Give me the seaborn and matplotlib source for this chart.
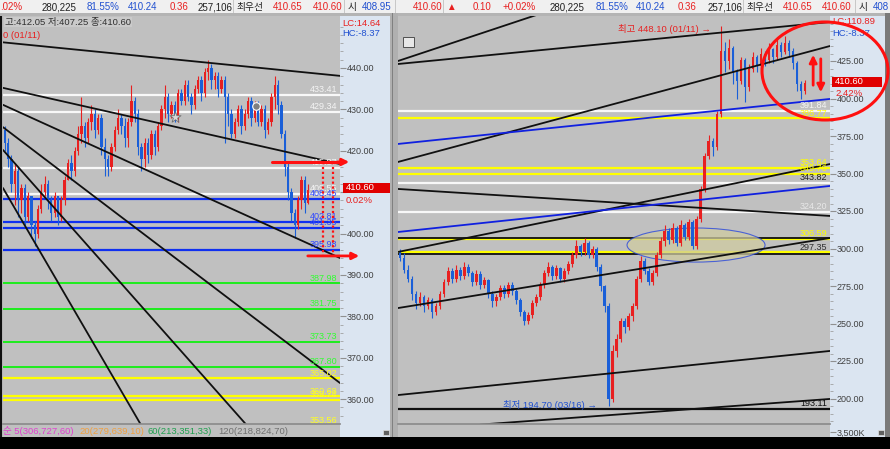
import numpy as np
import matplotlib.pyplot as plt
import matplotlib.patches as mpatches
from matplotlib.ticker import FormatStrFormatter, FixedLocator, FuncFormatter
import seaborn as sns

sns.set_theme(style="white")
plt.rcParams['font.family'] = ['Liberation Sans', 'Noto Sans CJK KR', 'DejaVu Sans']

W, H = 890, 449
RED = '#e82020'
BLUE = '#1a5fd8'
TXTBLUE = '#2050d0'

# ---- left chart (daily) candles: open = previous close
left_open0 = 425
left_close = [422, 418, 412, 415, 408, 411, 404, 409, 402, 400,
              406, 410, 412, 408, 405, 409, 404, 408, 413, 417,
              415, 420, 424, 426, 423, 427, 429, 425, 428, 421,
              418, 416, 421, 425, 428, 426, 423, 427, 432, 429,
              421, 418, 422, 419, 424, 421, 426, 430, 433, 429,
              431, 428, 434, 432, 436, 433, 431, 435, 437, 434,
              439, 440, 437, 438, 435, 437, 433, 429, 424, 427,
              430, 426, 429, 432, 428, 431, 427, 430, 425, 427,
              433, 436, 431, 424, 416, 410, 405, 402, 408, 413,
              407.5, 410.6]
left_high = [426, 423, 419, 417, 416, 412, 412, 410, 409, 403,
             407, 412, 414, 413, 409, 410, 409, 409, 414, 418,
             419, 421, 426, 433, 427, 428, 431, 430, 429, 429,
             423, 419, 422, 426, 430, 429, 428, 428, 436, 433,
             430, 422, 423, 423, 425, 425, 427, 431, 436, 434,
             432, 432, 435, 435, 437, 437, 434, 436, 438, 438,
             440, 442, 441, 439, 439, 438, 438, 434, 430, 428,
             431, 431, 430, 433, 433, 432, 432, 431, 431, 428,
             434, 438, 437, 432, 425, 417, 411, 406, 409, 414,
             414, 412.05]
left_low = [420, 416, 410, 407, 404, 405, 402, 403, 399, 397,
            399, 405, 409, 406, 403, 404, 402, 403, 407, 413,
            413, 414, 419, 422, 421, 422, 425, 423, 424, 419,
            414, 414, 415, 420, 424, 424, 421, 421, 426, 427,
            419, 415, 416, 417, 418, 419, 420, 425, 428, 427,
            428, 427, 427, 431, 431, 432, 429, 430, 434, 432,
            433, 437, 435, 435, 433, 434, 422, 426, 423, 423,
            426, 424, 425, 428, 426, 427, 426, 426, 423, 424,
            426, 430, 429, 423, 414, 408, 403, 399, 401, 406,
            405, 407.25]

left_levels = [433.41, 429.34, 415.87, 409.55, 408.45, 402.81, 401.35, 395.98,
               387.98, 381.75, 373.73, 367.80, 365.02, 360.68, 359.74, 353.56]
left_level_colors = ['white', 'white', 'white', 'white', 'blue', 'blue', 'blue', 'blue',
                     'green', 'green', 'green', 'green', 'yellow', 'yellow', 'yellow', 'yellow']
left_trends = [(-0.5, 446.2, 100.6, 438.1), (-0.5, 435.2, 100.6, 416.8),
               (-0.5, 431.1, 100.6, 394.1), (-0.5, 425.7, 100.6, 363.9),
               (-0.5, 420.2, 80.0, 347.0), (-0.5, 411.0, 50.0, 341.2)]

# ---- right chart (weekly) candles
right_open0 = 298
right_close = [294, 286, 280, 270, 264, 268, 262, 266, 258, 262,
               270, 278, 285, 280, 286, 282, 288, 284, 278, 283,
               276, 279, 270, 265, 268, 274, 270, 276, 272, 266,
               258, 252, 256, 264, 268, 276, 284, 288, 282, 287,
               280, 285, 290, 296, 302, 298, 304, 296, 300, 288,
               275, 262, 200, 232, 240, 252, 248, 255, 262, 280,
               292, 285, 278, 284, 296, 305, 312, 306, 314, 304,
               316, 308, 318, 302, 320, 340, 362, 372, 368, 390,
               432, 425, 434, 418, 412, 426, 408, 420, 428, 422,
               430, 426, 433, 428, 436, 431, 437, 432, 424, 410,
               405, 410.6]
right_high = [300, 297, 289, 282, 272, 271, 269, 268, 267, 264,
              272, 280, 288, 287, 289, 288, 291, 290, 285, 286,
              285, 281, 280, 272, 270, 276, 276, 278, 278, 273,
              267, 259, 258, 266, 270, 278, 286, 291, 289, 289,
              288, 287, 292, 298, 306, 303, 307, 305, 302, 301,
              290, 276, 264, 236, 243, 254, 254, 257, 264, 282,
              295, 294, 287, 286, 298, 308, 316, 314, 317, 315,
              319, 317, 320, 319, 322, 342, 364, 376, 374, 392,
              448.1, 438, 440, 435, 420, 428, 427, 423, 431, 429,
              434, 432, 437, 434, 440, 438, 442, 439, 434, 425,
              412, 412.05]
right_low = [292, 284, 278, 266, 260, 262, 258, 260, 254, 256,
             260, 268, 276, 277, 278, 279, 280, 282, 275, 276,
             273, 274, 267, 261, 262, 266, 267, 268, 269, 263,
             255, 249, 250, 254, 262, 266, 274, 282, 279, 280,
             278, 278, 283, 288, 294, 295, 296, 294, 294, 285,
             272, 258, 194.7, 198, 228, 238, 244, 246, 252, 260,
             278, 283, 276, 276, 282, 294, 302, 303, 304, 302,
             302, 306, 306, 300, 300, 318, 338, 360, 362, 366,
             388, 418, 420, 410, 400, 410, 398, 405, 418, 418,
             420, 422, 424, 424, 426, 428, 430, 428, 420, 405,
             400, 403]

right_levels = [391.84, 386.77, 353.64, 349.76, 343.82, 324.20, 306.59, 297.35, 193.11]
right_level_colors = ['white', 'yellow', 'yellow', 'yellow', 'white', 'white', 'yellow', 'yellow', 'black']
right_label_colors = ['#f4f4f4', '#ffff00', '#ffff00', '#ffff00', '#202020', '#e8e8e8', '#ffff00', '#303030', '#101010']
right_black_levels = [307.3, 296.6]
right_trends = [(-0.5, 423.0, 107.2, 451.0, 'k'), (-0.5, 425.0, 40.0, 461.0, 'k'),
                (-0.5, 357.7, 107.2, 435.0, 'k'), (-0.5, 369.7, 107.2, 399.7, 'b'),
                (-0.5, 339.7, 107.2, 321.7, 'k'), (-0.5, 297.7, 107.2, 356.3, 'k'),
                (-0.5, 311.0, 107.2, 341.7, 'b'), (-0.5, 260.3, 107.2, 307.0, 'k'),
                (-0.5, 202.3, 107.2, 231.7, 'k'), (20.0, 182.6, 107.2, 199.7, 'k')]
zone_center = (73.8, 302.3)
zone_size = (34.4, 22.7)

level_rgb = {'white': '#f8f8f8', 'blue': '#1030f0', 'green': '#10f010',
             'yellow': '#ffff00', 'black': '#101010'}
label_rgb = {'white': '#f4f4f4', 'blue': '#3048ff', 'green': '#30ff30', 'yellow': '#ffff20'}

fig = plt.figure(figsize=(8.9, 4.49), dpi=100, facecolor='#b4b4b4')


def rect(x0, y0, x1, y1, color, z=-1):
    fig.add_artist(mpatches.Rectangle((x0 / W, 1 - y1 / H), (x1 - x0) / W, (y1 - y0) / H,
                                      transform=fig.transFigure, facecolor=color,
                                      edgecolor='none', zorder=z))


def ftext(x, y, s, color, size=6.5, ha='left', **kw):
    fig.text(x / W, 1 - y / H, s, color=color, fontsize=size, ha=ha, va='center', **kw)


def px_axes(x0, y0, x1, y1):
    return fig.add_axes([x0 / W, 1 - y1 / H, (x1 - x0) / W, (y1 - y0) / H])


def candles(ax, open0, close, high, low, width):
    close = np.array(close, dtype=float)
    opens = np.concatenate([[open0], close[:-1]])
    x = np.arange(len(close))
    cols = np.where(close >= opens, RED, BLUE)
    ax.vlines(x, low, high, colors=cols, lw=0.8, zorder=2)
    body = np.maximum(np.abs(close - opens), 0.4)
    ax.bar(x, body, bottom=np.minimum(opens, close), width=width, color=cols,
           linewidth=0, zorder=2)


# backgrounds
rect(0, 0, 890, 13, '#f0f0f0')
rect(340, 16, 390, 437, '#dbe5f1')
rect(830, 16, 885, 437, '#dbe5f1')
rect(390, 13, 398, 437, '#b0b0b0')
rect(392, 13, 393, 437, '#808080')
rect(885, 13, 890, 437, '#7a7a7a')
rect(0, 16, 2, 437, '#101010')
rect(0, 437, 890, 449, '#000000')
for sx in [233, 344, 395, 443, 743, 855]:
    rect(sx, 0, sx + 1, 13, '#c8c8c8')

# ---- left chart
axL = px_axes(3, 16, 340, 424)
axL.set_facecolor('#c0c0c0')
axL.set_xlim(-0.5, 100.6)
axL.set_ylim(354.0, 452.56)
for v, c in zip(left_levels, left_level_colors):
    axL.axhline(v, color=level_rgb[c], lw=1.6 if c != 'green' else 1.3, zorder=1)
    axL.annotate(f'{v:.2f}', xy=(1, v), xycoords=axL.get_yaxis_transform(),
                 xytext=(-2, 0.6), textcoords='offset points', ha='right', va='bottom',
                 fontsize=6.5, color=label_rgb[c], annotation_clip=False, zorder=4)
candles(axL, left_open0, left_close, left_high, left_low, 0.7)
for x0, y0, x1, y1 in left_trends:
    axL.plot([x0, x1], [y0, y1], color='#101010', lw=1.3, zorder=3)
axL.scatter([51.1], [428.2], marker='*', s=70, color='#d8d8d8', edgecolor='#707070', lw=0.6, zorder=5)
axL.scatter([75.4], [430.8], marker='o', s=30, color='#808080', edgecolor='white', lw=0.8, zorder=5)
axL.plot([80.2, 100.6], [417.3, 417.3], color='#ff1010', lw=2.2, zorder=4)
axL.annotate('', xy=(104.2, 417.3), xytext=(99, 417.3),
             arrowprops=dict(arrowstyle='-|>', color='#ff1010', lw=2, mutation_scale=10),
             annotation_clip=False, zorder=6)
axL.annotate('', xy=(107.2, 394.6), xytext=(90.1, 394.6),
             arrowprops=dict(arrowstyle='-|>', color='#ff1010', lw=2, mutation_scale=10),
             annotation_clip=False, zorder=6)
for vx in [95.5, 98.5]:
    axL.plot([vx, vx], [417.3, 394.6], color='#ff1010', lw=1.6, ls=(0, (1, 1.2)), zorder=4)
axL.set_xticks([])
axL.yaxis.tick_right()
axL.set_yticks(np.arange(360, 441, 10))
axL.yaxis.set_minor_locator(FixedLocator(np.arange(356, 452, 2)))
# the current-price box covers the 410 label
axL.yaxis.set_major_formatter(FuncFormatter(lambda v, p: '' if abs(v - 410) < 0.1 else f'{v:.2f}'))
axL.tick_params(axis='y', which='major', length=4, width=0.8, color='#909090',
                labelsize=6.5, labelcolor='#404040', pad=1)
axL.tick_params(axis='y', which='minor', length=2, width=0.6, color='#a0a0a0')
for s in axL.spines.values():
    s.set_visible(False)

# left volume strip
axLS = px_axes(3, 424, 340, 437)
axLS.set_facecolor('#c0c0c0')
axLS.set_xticks([])
axLS.set_yticks([])
for s in axLS.spines.values():
    s.set_visible(False)
axLS.spines['top'].set_visible(True)
axLS.spines['top'].set_color('#8c8c8c')

# ---- right chart
axR = px_axes(398, 16, 830, 424)
axR.set_facecolor('#c0c0c0')
axR.set_xlim(-0.5, 107.2)
axR.set_ylim(183.0, 455.0)
for v, c, lc in zip(right_levels, right_level_colors, right_label_colors):
    axR.axhline(v, color=level_rgb[c], lw=1.6, zorder=1)
    axR.annotate(f'{v:.2f}', xy=(1, v), xycoords=axR.get_yaxis_transform(),
                 xytext=(-2, 0.6), textcoords='offset points', ha='right', va='bottom',
                 fontsize=6.5, color=lc, annotation_clip=False, zorder=4)
for v in right_black_levels:
    axR.axhline(v, color='#101010', lw=1.3, zorder=1)
zone = mpatches.Ellipse(zone_center, zone_size[0], zone_size[1], facecolor='#cfcba0',
                        edgecolor='#2040e0', lw=0.8, alpha=0.75, zorder=1.5)
axR.add_patch(zone)
candles(axR, right_open0, right_close, right_high, right_low, 0.68)
for x0, y0, x1, y1, c in right_trends:
    axR.plot([x0, x1], [y0, y1], color='#101010' if c == 'k' else '#1020e0', lw=1.3, zorder=3)
axR.annotate('', xy=(103.0, 431.0), xytext=(103.0, 407.0),
             arrowprops=dict(arrowstyle='-|>', color='#ff1010', lw=2, mutation_scale=11), zorder=6)
axR.annotate('', xy=(104.9, 402.3), xytext=(104.9, 428.3),
             arrowprops=dict(arrowstyle='-|>', color='#ff1010', lw=2, mutation_scale=11), zorder=6)
axR.set_xticks([])
axR.yaxis.tick_right()
axR.set_yticks(np.arange(200, 426, 25))
axR.yaxis.set_minor_locator(FixedLocator(np.arange(185, 455, 5)))
axR.yaxis.set_major_formatter(FormatStrFormatter('%.2f'))
axR.tick_params(axis='y', which='major', length=4, width=0.8, color='#909090',
                labelsize=6.5, labelcolor='#404040', pad=1)
axR.tick_params(axis='y', which='minor', length=2, width=0.6, color='#a0a0a0')
for s in axR.spines.values():
    s.set_visible(False)

axRS = px_axes(398, 424, 830, 437)
axRS.set_facecolor('#c0c0c0')
axRS.set_xticks([])
axRS.set_ylim(0, 1)
axRS.yaxis.tick_right()
axRS.set_yticks([0.38])
axRS.set_yticklabels(['3,500K'])
axRS.tick_params(axis='y', length=4, width=0.8, color='#909090', labelsize=6.5,
                 labelcolor='#404040', pad=1)
for s in axRS.spines.values():
    s.set_visible(False)
axRS.spines['top'].set_visible(True)
axRS.spines['top'].set_color('#8c8c8c')

# ---- texts
top_left = [(0, '.02%', RED), (42, '280,225', '#202020'), (87, '81.55%', TXTBLUE),
            (128, '410.24', TXTBLUE), (170, '0.36', RED), (198, '257,106', '#202020'),
            (236, '최우선', '#202020'), (273, '410.65', RED), (313, '410.60', RED),
            (348, '시', '#202020'), (362, '408.95', TXTBLUE), (413, '410.60', RED)]
top_right = [(446, '▲', RED), (473, '0.10', RED), (503, '+0.02%', RED),
             (550, '280,225', '#202020'), (596, '81.55%', TXTBLUE), (636, '410.24', TXTBLUE),
             (678, '0.36', RED), (708, '257,106', '#202020'), (746, '최우선', '#202020'),
             (783, '410.65', RED), (822, '410.60', RED), (859, '시', '#202020'),
             (873, '408', TXTBLUE)]
for x, s, c in top_left + top_right:
    ftext(x, 7, s, c, size=7)

ftext(5, 22, '고:412.05 저:407.25 종:410.60', '#303030', size=6.8,
      bbox=dict(facecolor='#cacaca', edgecolor='none', pad=0.6))
ftext(3, 35, '0 (01/11)', RED, size=6.8)
ftext(342, 23, 'LC:14.64', RED, size=6.8)
ftext(342, 34, 'HC:-8.37', TXTBLUE, size=6.8)
ftext(832, 22, 'LC:110.89', RED, size=6.8)
ftext(832, 34, 'HC:-8.37', TXTBLUE, size=6.8)

rect(343, 183, 390, 193, '#e00000', z=5)
ftext(346, 188, '410.60', 'white', size=6.8, zorder=6)
ftext(346, 200, '0.02%', RED, size=6.8)
rect(832, 77, 882, 87, '#e00000', z=5)
ftext(835, 82, '410.60', 'white', size=6.8, zorder=6)
ftext(835, 94, '2.42%', RED, size=6.8)

ftext(618, 29, '최고 448.10 (01/11) →', RED, size=6.8)
ftext(503, 405, '최저 194.70 (03/16) →', TXTBLUE, size=6.8)

ftext(3, 431, '순 5(306,727,60)', '#e040d0', size=6.8)
ftext(79, 431, '20(279,639,10)', '#f0a040', size=6.8)
ftext(148, 431, '60(213,351,33)', '#20a050', size=6.8)
ftext(218, 431, '120(218,824,70)', '#707070', size=6.8)

# calendar icon and small boxes
fig.add_artist(mpatches.Rectangle((403 / W, 1 - 47 / H), 11 / W, 10 / H, transform=fig.transFigure,
                                  facecolor='#e8e8e8', edgecolor='#505050', lw=0.7, zorder=5))
for bx in [383, 878]:
    fig.add_artist(mpatches.Rectangle((bx / W, 1 - 435 / H), 6 / W, 5 / H, transform=fig.transFigure,
                                      facecolor='#606060', edgecolor='#e0e0e0', lw=0.5, zorder=5))

# big red circle
fig.add_artist(mpatches.Ellipse((825 / W, 1 - 71 / H), 126 / W, 98 / H, transform=fig.transFigure,
                                fill=False, edgecolor='#ff1010', lw=2.2, zorder=10))

fig.savefig('out.png', dpi=100, facecolor=fig.get_facecolor())
